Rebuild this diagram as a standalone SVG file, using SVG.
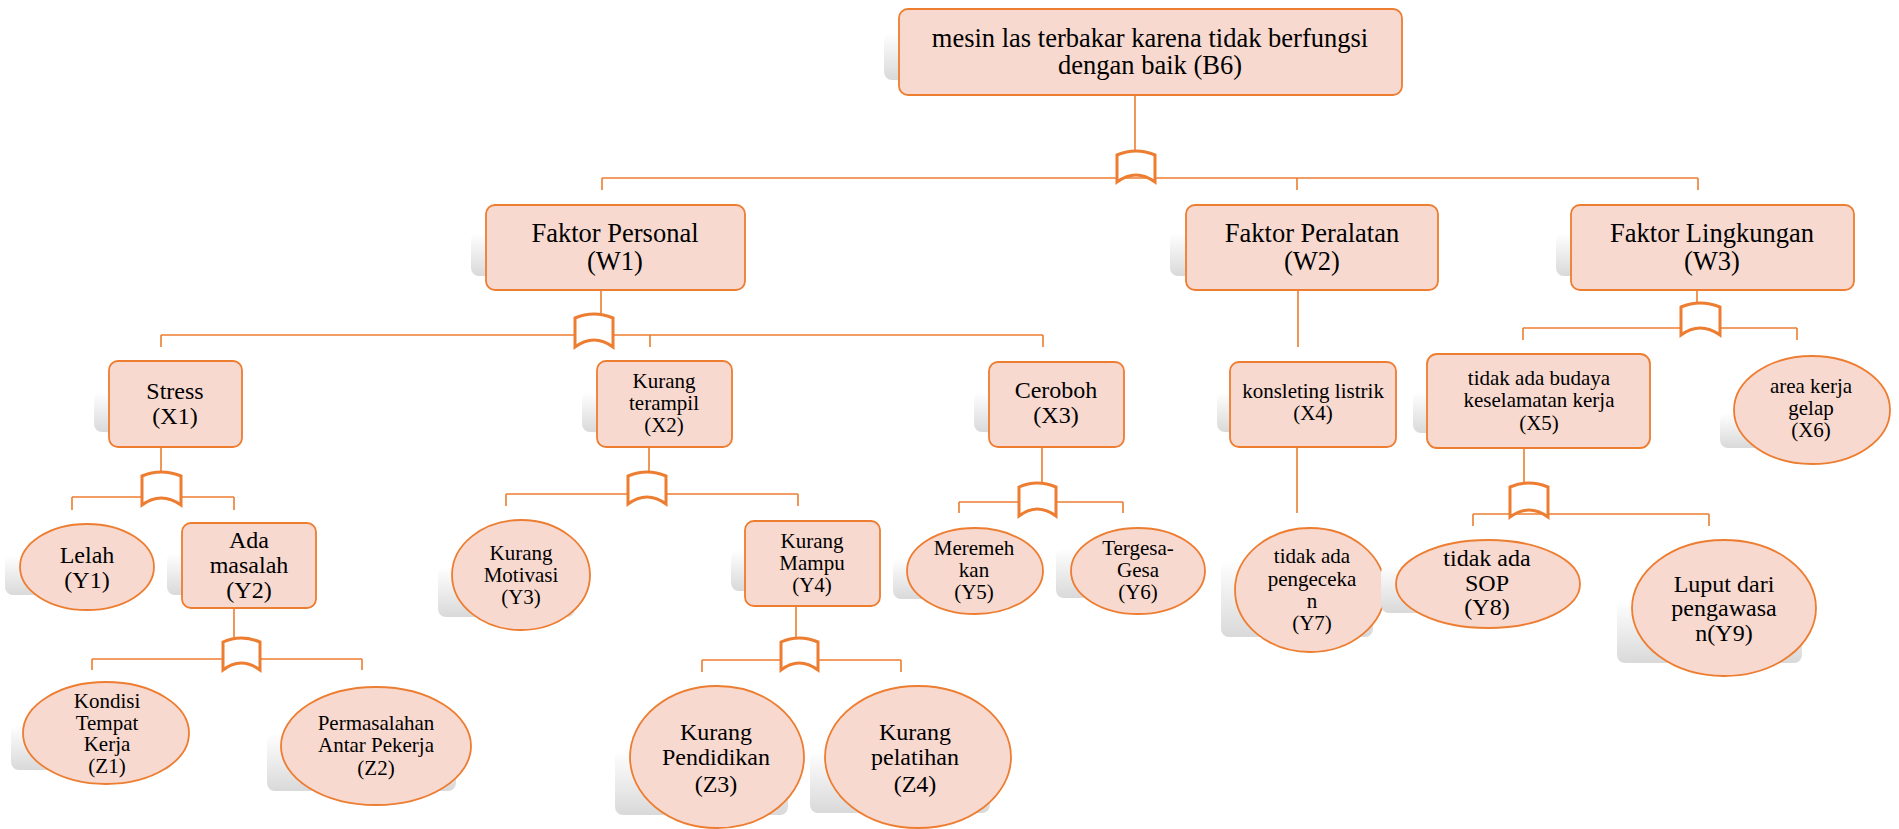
<svg xmlns="http://www.w3.org/2000/svg" width="1899" height="829" viewBox="0 0 1899 829">
<style>
.bg{fill:#ffffff}
.nd{fill:#f8d9cf;stroke:#ed7d31;stroke-width:1.8}
.sh{fill:url(#shg)}
.ln{fill:none;stroke:#ed7d31;stroke-width:1.6}
.gt{fill:#ffffff;stroke:#ed7d31;stroke-width:3}
text{font-family:"Liberation Serif","Times New Roman",serif;fill:#000;text-anchor:middle}
.f26{font-size:26.5px}
.f24{font-size:24px}
.f21{font-size:21px}
</style>
<defs>
<linearGradient id="shg" x1="0" y1="0" x2="0" y2="1">
<stop offset="0" stop-color="#ffffff"/>
<stop offset="1" stop-color="#d9d9d9"/>
</linearGradient>
</defs>
<rect class="bg" x="0" y="0" width="1899" height="829"/>

<g id="connectors">
<!-- top -->
<path class="ln" d="M1135 95V152M602 178H1698M602 178V190M1297 178V190M1698 178V190"/>
<path class="gt" d="M1117 155Q1136 147 1155 155V182Q1136 168 1117 182Z"/>
<!-- W1 -->
<path class="ln" d="M601 290V317M161 335H1043M161 335V347M650 335V347M1043 335V347"/>
<path class="gt" d="M575 318Q594 310 613 318V347Q594 333 575 347Z"/>
<!-- W2 -->
<path class="ln" d="M1298 290V347M1297 447V513"/>
<!-- W3 -->
<path class="ln" d="M1697 290V306M1523 328H1797M1523 328V340M1797 328V340"/>
<path class="gt" d="M1681 307Q1700 299 1720 307V335Q1700 321 1681 335Z"/>
<!-- X1 -->
<path class="ln" d="M161 447V475M72 497H234M72 497V510M234 497V510"/>
<path class="gt" d="M142 476Q161 468 181 476V505Q161 491 142 505Z"/>
<!-- X2 -->
<path class="ln" d="M649 447V475M506 494H798M506 494V506M798 494V506"/>
<path class="gt" d="M628 476Q647 468 666 476V504Q647 490 628 504Z"/>
<!-- X3 -->
<path class="ln" d="M1042 447V486M959 502H1123M959 502V513M1123 502V513"/>
<path class="gt" d="M1019 487Q1037 479 1056 487V516Q1037 502 1019 516Z"/>
<!-- X5 -->
<path class="ln" d="M1524 448V486M1473 514H1709M1473 514V526M1709 514V526"/>
<path class="gt" d="M1510 487Q1529 479 1548 487V517Q1529 503 1510 517Z"/>
<!-- Y2 -->
<path class="ln" d="M234 608V641M92 659H362M92 659V670M362 659V670"/>
<path class="gt" d="M223 642Q241 634 260 642V670Q241 656 223 670Z"/>
<!-- Y4 -->
<path class="ln" d="M796 606V641M702 660H901M702 660V672M901 660V672"/>
<path class="gt" d="M781 642Q799 634 818 642V670Q799 656 781 670Z"/>
</g>

<g id="B6">
<rect class="sh" x="884" y="33" width="501" height="47" rx="8"/>
<rect class="nd" x="899" y="9" width="503" height="86" rx="9"/>
<text class="f26" x="1150"><tspan x="1150" y="47">mesin las terbakar karena tidak berfungsi</tspan><tspan x="1150" y="74">dengan baik (B6)</tspan></text>
</g>

<g id="W1">
<rect class="sh" x="471" y="233" width="259" height="43" rx="8"/>
<rect class="nd" x="486" y="205" width="259" height="85" rx="9"/>
<text class="f26"><tspan x="615" y="242">Faktor Personal</tspan><tspan x="615" y="270">(W1)</tspan></text>
</g>

<g id="W2">
<rect class="sh" x="1170" y="233" width="252" height="43" rx="8"/>
<rect class="nd" x="1186" y="205" width="252" height="85" rx="9"/>
<text class="f26"><tspan x="1312" y="242">Faktor Peralatan</tspan><tspan x="1312" y="270">(W2)</tspan></text>
</g>

<g id="W3">
<rect class="sh" x="1556" y="233" width="283" height="43" rx="8"/>
<rect class="nd" x="1571" y="205" width="283" height="85" rx="9"/>
<text class="f26"><tspan x="1712" y="242">Faktor Lingkungan</tspan><tspan x="1712" y="270">(W3)</tspan></text>
</g>

<g id="X1">
<rect class="sh" x="94" y="392" width="135" height="40" rx="8"/>
<rect class="nd" x="109" y="361" width="133" height="86" rx="9"/>
<text class="f24"><tspan x="175" y="399">Stress</tspan><tspan x="175" y="424">(X1)</tspan></text>
</g>

<g id="X2">
<rect class="sh" x="582" y="392" width="135" height="40" rx="8"/>
<rect class="nd" x="597" y="361" width="135" height="86" rx="9"/>
<text class="f21"><tspan x="664" y="388">Kurang</tspan><tspan x="664" y="410">terampil</tspan><tspan x="664" y="432">(X2)</tspan></text>
</g>

<g id="X3">
<rect class="sh" x="974" y="392" width="135" height="40" rx="8"/>
<rect class="nd" x="989" y="362" width="135" height="85" rx="9"/>
<text class="f24"><tspan x="1056" y="398">Ceroboh</tspan><tspan x="1056" y="423">(X3)</tspan></text>
</g>

<g id="X4">
<rect class="sh" x="1217" y="392" width="161" height="40" rx="8"/>
<rect class="nd" x="1230" y="362" width="166" height="85" rx="9"/>
<text class="f21"><tspan x="1313" y="398">konsleting listrik</tspan><tspan x="1313" y="420">(X4)</tspan></text>
</g>

<g id="X5">
<rect class="sh" x="1413" y="392" width="221" height="41" rx="8"/>
<rect class="nd" x="1427" y="354" width="223" height="94" rx="10"/>
<text class="f21"><tspan x="1539" y="385">tidak ada budaya</tspan><tspan x="1539" y="407">keselamatan kerja</tspan><tspan x="1539" y="430">(X5)</tspan></text>
</g>

<g id="X6">
<rect class="sh" x="1720" y="413" width="150" height="35" rx="8"/>
<ellipse class="nd" cx="1812" cy="410" rx="78" ry="54"/>
<text class="f21"><tspan x="1811" y="393">area kerja</tspan><tspan x="1811" y="415">gelap</tspan><tspan x="1811" y="437">(X6)</tspan></text>
</g>

<g id="Y1">
<rect class="sh" x="5" y="555" width="135" height="40" rx="8"/>
<ellipse class="nd" cx="87" cy="567" rx="67" ry="43"/>
<text class="f24"><tspan x="87" y="563">Lelah</tspan><tspan x="87" y="588">(Y1)</tspan></text>
</g>

<g id="Y2">
<rect class="sh" x="167" y="553" width="133" height="42" rx="8"/>
<rect class="nd" x="182" y="523" width="134" height="85" rx="9"/>
<text class="f24"><tspan x="249" y="548">Ada</tspan><tspan x="249" y="573">masalah</tspan><tspan x="249" y="598">(Y2)</tspan></text>
</g>

<g id="Y3">
<rect class="sh" x="438" y="567" width="137" height="50" rx="8"/>
<ellipse class="nd" cx="521" cy="575" rx="69" ry="55"/>
<text class="f21"><tspan x="521" y="560">Kurang</tspan><tspan x="521" y="582">Motivasi</tspan><tspan x="521" y="604">(Y3)</tspan></text>
</g>

<g id="Y4">
<rect class="sh" x="731" y="550" width="134" height="41" rx="8"/>
<rect class="nd" x="745" y="521" width="135" height="85" rx="9"/>
<text class="f21"><tspan x="812" y="548">Kurang</tspan><tspan x="812" y="570">Mampu</tspan><tspan x="812" y="592">(Y4)</tspan></text>
</g>

<g id="Y5">
<rect class="sh" x="893" y="558" width="132" height="41" rx="8"/>
<ellipse class="nd" cx="975" cy="571" rx="68" ry="43"/>
<text class="f21"><tspan x="974" y="555">Meremeh</tspan><tspan x="974" y="577">kan</tspan><tspan x="974" y="599">(Y5)</tspan></text>
</g>

<g id="Y6">
<rect class="sh" x="1056" y="548" width="130" height="50" rx="8"/>
<ellipse class="nd" cx="1138" cy="571" rx="67" ry="43"/>
<text class="f21"><tspan x="1138" y="555">Tergesa-</tspan><tspan x="1138" y="577">Gesa</tspan><tspan x="1138" y="599">(Y6)</tspan></text>
</g>

<g id="Y7">
<rect class="sh" x="1221" y="560" width="152" height="77" rx="8"/>
<ellipse class="nd" cx="1310" cy="590" rx="75" ry="62"/>
<text class="f21"><tspan x="1312" y="563">tidak ada</tspan><tspan x="1312" y="586">pengeceka</tspan><tspan x="1312" y="608">n</tspan><tspan x="1312" y="630">(Y7)</tspan></text>
</g>

<g id="Y8">
<rect class="sh" x="1381" y="565" width="180" height="48" rx="8"/>
<ellipse class="nd" cx="1488" cy="584" rx="92" ry="44"/>
<text class="f24"><tspan x="1487" y="566">tidak ada</tspan><tspan x="1487" y="591">SOP</tspan><tspan x="1487" y="615">(Y8)</tspan></text>
</g>

<g id="Y9">
<rect class="sh" x="1617" y="600" width="185" height="63" rx="8"/>
<ellipse class="nd" cx="1724" cy="608" rx="92" ry="68"/>
<text class="f24"><tspan x="1724" y="592">Luput dari</tspan><tspan x="1724" y="616">pengawasa</tspan><tspan x="1724" y="641">n(Y9)</tspan></text>
</g>

<g id="Z1">
<rect class="sh" x="11" y="725" width="161" height="45" rx="8"/>
<ellipse class="nd" cx="106" cy="733" rx="83" ry="51"/>
<text class="f21"><tspan x="107" y="708">Kondisi</tspan><tspan x="107" y="730">Tempat</tspan><tspan x="107" y="751">Kerja</tspan><tspan x="107" y="773">(Z1)</tspan></text>
</g>

<g id="Z2">
<rect class="sh" x="267" y="733" width="189" height="58" rx="8"/>
<ellipse class="nd" cx="376" cy="746" rx="95" ry="59"/>
<text class="f21"><tspan x="376" y="730">Permasalahan</tspan><tspan x="376" y="752">Antar Pekerja</tspan><tspan x="376" y="775">(Z2)</tspan></text>
</g>

<g id="Z3">
<rect class="sh" x="615" y="750" width="173" height="65" rx="8"/>
<ellipse class="nd" cx="717" cy="757" rx="87" ry="71"/>
<text class="f24"><tspan x="716" y="740">Kurang</tspan><tspan x="716" y="765">Pendidikan</tspan><tspan x="716" y="792">(Z3)</tspan></text>
</g>

<g id="Z4">
<rect class="sh" x="810" y="750" width="180" height="63" rx="8"/>
<ellipse class="nd" cx="918" cy="757" rx="93" ry="71"/>
<text class="f24"><tspan x="915" y="740">Kurang</tspan><tspan x="915" y="765">pelatihan</tspan><tspan x="915" y="792">(Z4)</tspan></text>
</g>
</svg>
